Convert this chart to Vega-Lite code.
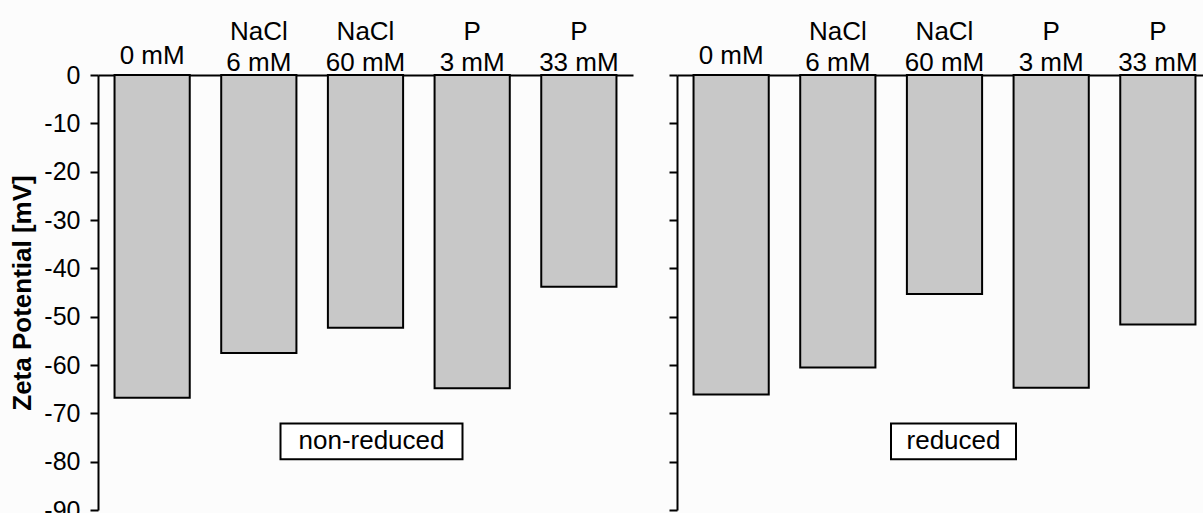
{
  "$schema": "https://vega.github.io/schema/vega-lite/v6.json",
  "background": "#fcfcfc",
  "padding": {"left": 9, "top": 18, "right": 0, "bottom": 0},
  "spacing": 35,
  "config": {
    "font": "Liberation Sans",
    "view": {"stroke": null},
    "axis": {
      "grid": false,
      "domainColor": "black",
      "domainWidth": 2,
      "tickColor": "black",
      "tickWidth": 2,
      "tickSize": 8,
      "labelColor": "black",
      "labelFont": "Liberation Sans",
      "labelFontSize": 25,
      "titleColor": "black",
      "titleFont": "Liberation Sans"
    }
  },
  "datasets": {
    "zeta": [
      {"panel": "non-reduced", "cond": "0 mM", "zeta": -66.8},
      {"panel": "non-reduced", "cond": "NaCl\n6 mM", "zeta": -57.5},
      {"panel": "non-reduced", "cond": "NaCl\n60 mM", "zeta": -52.3},
      {"panel": "non-reduced", "cond": "P\n3 mM", "zeta": -64.8},
      {"panel": "non-reduced", "cond": "P\n33 mM", "zeta": -43.8},
      {"panel": "reduced", "cond": "0 mM", "zeta": -66.1},
      {"panel": "reduced", "cond": "NaCl\n6 mM", "zeta": -60.5},
      {"panel": "reduced", "cond": "NaCl\n60 mM", "zeta": -45.3},
      {"panel": "reduced", "cond": "P\n3 mM", "zeta": -64.7},
      {"panel": "reduced", "cond": "P\n33 mM", "zeta": -51.6}
    ],
    "notes": [
      {"panel": "non-reduced", "cond": "NaCl\n60 mM", "top": -72.1, "bottom": -79.5, "mid": -75.7},
      {"panel": "reduced", "cond": "NaCl\n60 mM", "top": -72.1, "bottom": -79.5, "mid": -75.7}
    ]
  },
  "hconcat": [
    {
      "width": 535,
      "height": 435,
      "layer": [
        {
          "data": {"name": "zeta"},
          "transform": [{"filter": "datum.panel === 'non-reduced'"}],
          "mark": {"type": "bar", "fill": "#c8c8c8", "stroke": "black", "strokeWidth": 2},
          "encoding": {
            "x": {
              "field": "cond", "type": "nominal", "sort": null,
              "scale": {"paddingInner": 0.295, "paddingOuter": 0.155},
              "axis": {
                "orient": "top", "title": null, "ticks": false, "labelAngle": 0,
                "labelFontSize": 26,
                "labelExpr": "split(datum.label, '\\n')",
                "labelLineHeight": 31.5,
                "labelBaseline": "top",
                "labelPadding": {"condition": {"test": "datum.value === '0 mM'", "value": 33}, "value": 57}
              }
            },
            "y": {
              "field": "zeta", "type": "quantitative",
              "scale": {"domain": [-90, 0], "nice": false, "zero": false},
              "axis": {
                "title": "Zeta Potential [mV]",
                "titleFontSize": 26,
                "titleFontWeight": "bold",
                "titlePadding": 8,
                "labelPadding": 10,
                "labelExpr": "replace(datum.label, '\u2212', '-')",
                "values": [0, -10, -20, -30, -40, -50, -60, -70, -80, -90]
              }
            }
          }
        },
        {
          "data": {"name": "notes"},
          "transform": [{"filter": "datum.panel === 'non-reduced'"}],
          "mark": {"type": "bar", "fill": "white", "stroke": "black", "strokeWidth": 2, "width": 182, "xOffset": 6},
          "encoding": {
            "x": {"field": "cond", "type": "nominal", "sort": null},
            "y": {"field": "top", "type": "quantitative"},
            "y2": {"field": "bottom"}
          }
        },
        {
          "data": {"name": "notes"},
          "transform": [{"filter": "datum.panel === 'non-reduced'"}],
          "mark": {"type": "text", "fontSize": 26, "font": "Liberation Sans", "color": "black", "baseline": "middle", "dx": 6},
          "encoding": {
            "x": {"field": "cond", "type": "nominal", "sort": null},
            "y": {"field": "mid", "type": "quantitative"},
            "text": {"field": "panel"}
          }
        }
      ]
    },
    {
      "width": 535,
      "height": 435,
      "layer": [
        {
          "data": {"name": "zeta"},
          "transform": [{"filter": "datum.panel === 'reduced'"}],
          "mark": {"type": "bar", "fill": "#c8c8c8", "stroke": "black", "strokeWidth": 2},
          "encoding": {
            "x": {
              "field": "cond", "type": "nominal", "sort": null,
              "scale": {"paddingInner": 0.295, "paddingOuter": 0.155},
              "axis": {
                "orient": "top", "title": null, "ticks": false, "labelAngle": 0,
                "labelFontSize": 26,
                "labelExpr": "split(datum.label, '\\n')",
                "labelLineHeight": 31.5,
                "labelBaseline": "top",
                "labelPadding": {"condition": {"test": "datum.value === '0 mM'", "value": 33}, "value": 57}
              }
            },
            "y": {
              "field": "zeta", "type": "quantitative",
              "scale": {"domain": [-90, 0], "nice": false, "zero": false},
              "axis": {
                "title": null,
                "labels": false,
                "values": [0, -10, -20, -30, -40, -50, -60, -70, -80, -90]
              }
            }
          }
        },
        {
          "data": {"name": "notes"},
          "transform": [{"filter": "datum.panel === 'reduced'"}],
          "mark": {"type": "bar", "fill": "white", "stroke": "black", "strokeWidth": 2, "width": 125, "xOffset": 9},
          "encoding": {
            "x": {"field": "cond", "type": "nominal", "sort": null},
            "y": {"field": "top", "type": "quantitative"},
            "y2": {"field": "bottom"}
          }
        },
        {
          "data": {"name": "notes"},
          "transform": [{"filter": "datum.panel === 'reduced'"}],
          "mark": {"type": "text", "fontSize": 26, "font": "Liberation Sans", "color": "black", "baseline": "middle", "dx": 9},
          "encoding": {
            "x": {"field": "cond", "type": "nominal", "sort": null},
            "y": {"field": "mid", "type": "quantitative"},
            "text": {"field": "panel"}
          }
        }
      ]
    }
  ]
}
